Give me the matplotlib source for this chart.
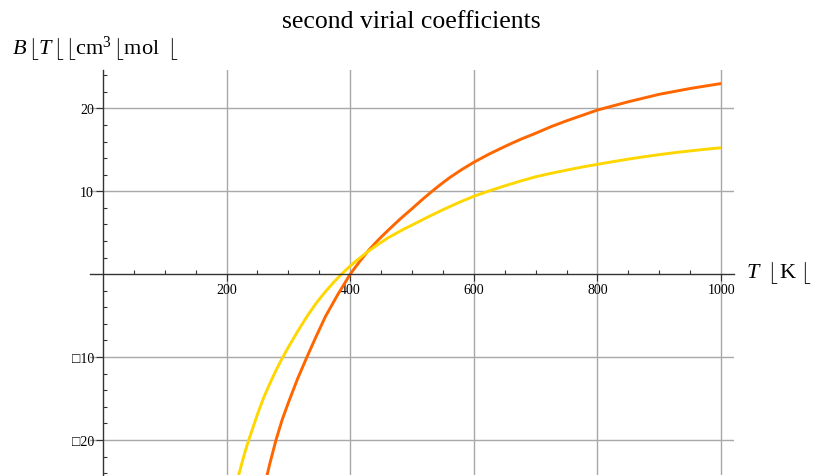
import matplotlib
matplotlib.use("Agg")
import matplotlib.pyplot as plt
from matplotlib.ticker import FixedLocator

plt.rcParams['font.family'] = ['Liberation Serif', 'DejaVu Serif']
plt.rcParams['mathtext.fontset'] = 'custom'
plt.rcParams['mathtext.rm'] = 'Liberation Serif'
plt.rcParams['mathtext.it'] = 'Liberation Serif:italic'
plt.rcParams['mathtext.bf'] = 'Liberation Serif:bold'

# ---- data ----
T_orange = [260, 265, 270, 280, 290, 300, 315, 330, 345, 360, 380, 400, 415,
            430, 445, 460, 480, 500, 515, 530, 545, 560, 580, 600, 625, 650,
            675, 700, 725, 750, 775, 800, 825, 850, 875, 900, 925, 950, 975, 1000]
B_orange = [-25.9, -24.4, -22.85, -20.0, -17.55, -15.5, -12.6, -10.0, -7.5, -5.1,
            -2.45, 0.0, 1.5, 2.9, 4.1, 5.2, 6.6, 7.9, 8.9, 9.85, 10.75, 11.6,
            12.6, 13.5, 14.5, 15.4, 16.25, 17.0, 17.8, 18.5, 19.15, 19.8, 20.3,
            20.8, 21.25, 21.7, 22.05, 22.4, 22.7, 23.0]

T_yellow = [215, 219, 225, 230, 235, 240, 250, 260, 270, 280, 290, 300, 315,
            330, 345, 360, 373, 386, 398, 410, 420, 430, 440, 450, 462, 475,
            487, 500, 525, 550, 575, 600, 625, 650, 675, 700, 725, 750, 775,
            800, 825, 850, 875, 900, 925, 950, 975, 1000]
B_yellow = [-25.4, -24.4, -22.75, -21.4, -20.2, -19.1, -16.9, -14.9, -13.2,
            -11.6, -10.15, -8.8, -6.9, -5.1, -3.5, -2.1, -1.0, 0.0, 0.85, 1.62,
            2.22, 2.8, 3.33, 3.84, 4.42, 4.95, 5.45, 5.92, 6.87, 7.77, 8.62,
            9.4, 10.05, 10.65, 11.22, 11.75, 12.17, 12.55, 12.92, 13.25, 13.57,
            13.88, 14.16, 14.42, 14.66, 14.87, 15.07, 15.25]

x_major = [200, 400, 600, 800, 1000]
x_major_labels = ["200", "400", "600", "800", "1000"]
x_minor = [50, 100, 150, 250, 300, 350, 450, 500, 550, 650, 700, 750, 850, 900, 950]
y_major = [-20, -10, 10, 20]
y_major_labels = ["\u25a120", "\u25a110", "10", "20"]
y_minor = [v for v in range(-24, 25, 2) if v % 10 != 0]

title = "second virial coefficients"
ylabel = r"$B\,\lfloor T\,\lfloor\,\lfloor\mathrm{cm}^3\,\lfloor\mathrm{mol}\;\;\lfloor$"
xlabel = r"$T\;\;\lfloor\,\mathrm{K}\;\lfloor$"

W, H = 816, 477
fig = plt.figure(figsize=(W / 100, H / 100), dpi=100)
ax = fig.add_axes([90 / W, 1 / H, 644 / W, 405 / H])

ax.plot(T_orange, B_orange, color='#ff6600', lw=2.1, solid_capstyle='butt',
        solid_joinstyle='round', zorder=3)
ax.plot(T_yellow, B_yellow, color='#ffd700', lw=2.1, solid_capstyle='butt',
        solid_joinstyle='round', zorder=4)

ax.set_xlim(-20.9, 1020.8)
ax.set_ylim(-24.23, 24.63)

for s in ('top', 'right'):
    ax.spines[s].set_visible(False)
ax.spines['left'].set_position(('data', 0))
ax.spines['bottom'].set_position(('data', 0))
for s in ('left', 'bottom'):
    ax.spines[s].set_color('#333333')
    ax.spines[s].set_linewidth(1.0)
    ax.spines[s].set_zorder(5)

ax.xaxis.set_major_locator(FixedLocator(x_major))
ax.xaxis.set_minor_locator(FixedLocator(x_minor))
ax.yaxis.set_major_locator(FixedLocator(y_major))
ax.yaxis.set_minor_locator(FixedLocator(y_minor))
ax.set_xticklabels(x_major_labels)
ax.set_yticklabels(y_major_labels)

ax.tick_params(axis='both', which='major', direction='out', length=5, width=0.8,
               color='#333333', labelsize=10, pad=1.5)
ax.tick_params(axis='both', which='minor', direction='in', length=3, width=0.8,
               color='#333333')

ax.grid(True, which='major', color='#a8a8a8', lw=1.0, zorder=1)
ax.set_axisbelow(True)

fig.text(411 / W, 1 - 28 / H, title, ha='center', va='baseline', fontsize=18.5)
fig.text(12 / W, 1 - 55 / H, ylabel, ha='left', va='baseline', fontsize=16)
fig.text(746 / W, 1 - 278 / H, xlabel, ha='left', va='baseline', fontsize=16)

fig.savefig("out.png", dpi=100)
